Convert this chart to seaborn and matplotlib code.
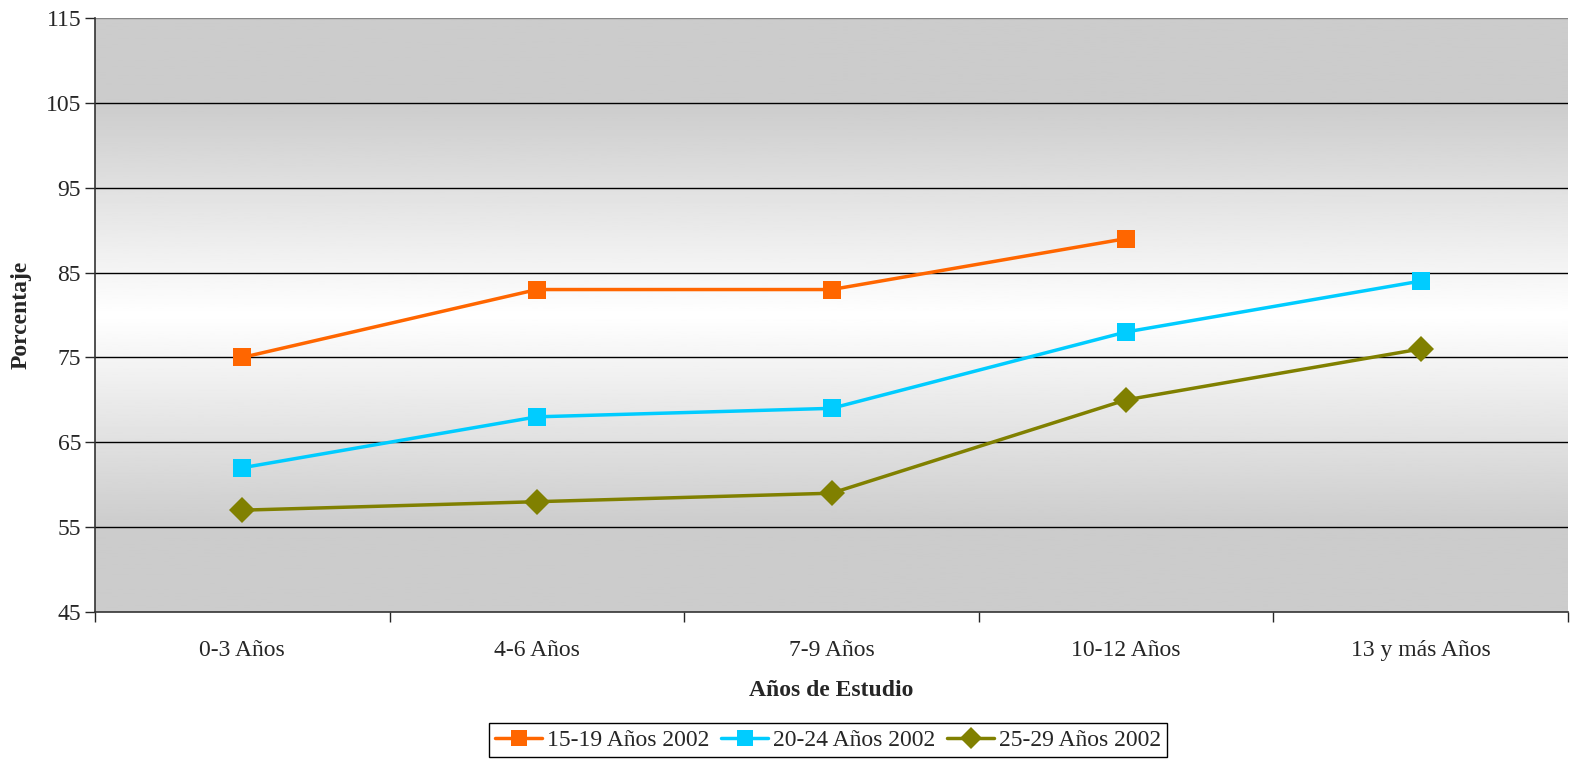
import numpy as np
import pandas as pd
import seaborn as sns
import matplotlib.pyplot as plt
import matplotlib.ticker as ticker

categorias = ["0-3 Años", "4-6 Años", "7-9 Años", "10-12 Años", "13 y más Años"]
s_15_19 = [75, 83, 83, 89, np.nan]
s_20_24 = [62, 68, 69, 78, 84]
s_25_29 = [57, 58, 59, 70, 76]
series = ["15-19 Años 2002", "20-24 Años 2002", "25-29 Años 2002"]
colores = ["#FF6600", "#00CCFF", "#808000"]
marcas = ["s", "s", "D"]
yticks = [45, 55, 65, 75, 85, 95, 105, 115]

sns.set_style("white")
plt.rcParams["font.family"] = ["Liberation Serif", "DejaVu Serif"]

df = pd.DataFrame({"x": list(range(len(categorias))) * 3,
                   "valor": s_15_19 + s_20_24 + s_25_29,
                   "serie": [s for s in series for _ in categorias]})
df = df.dropna()

fig = plt.figure(figsize=(15.87, 7.63), dpi=100)
ax = fig.add_axes([95 / 1587, 1 - 612 / 763, (1568 - 95) / 1587, (612 - 18) / 763])

# fondo degradado: gris arriba y abajo, blanco en el medio
yy = np.linspace(115, 45, 400)
grad = np.interp(yy, [45, 55, 80, 105, 115], [0.8, 0.8, 1.0, 0.8, 0.8])
ax.imshow(grad[:, None], extent=[-0.5, 4.5, 45, 115], aspect="auto",
          cmap="gray", vmin=0, vmax=1, zorder=0)

for y in yticks[1:-1]:
    ax.axhline(y, color="black", lw=1.0, zorder=1)
ax.axhline(115, color="#888888", lw=1.0, zorder=1)

g = sns.lineplot(data=df, x="x", y="valor", hue="serie", style="serie",
                 palette=colores, markers=marcas, dashes=False, markersize=13,
                 linewidth=2.5, markeredgewidth=0, ax=ax, zorder=3)

ax.set_xlim(-0.5, 4.5)
ax.set_ylim(45, 115)
ax.yaxis.set_major_locator(ticker.FixedLocator(yticks))
ax.set_xticks(range(len(categorias)))
ax.set_xticklabels(categorias, fontsize=17)
ax.xaxis.set_minor_locator(ticker.FixedLocator(np.arange(-0.5, 5, 1)))
ax.tick_params(axis="x", which="major", length=0, pad=20)
ax.tick_params(axis="x", which="minor", length=7, width=1, bottom=True)
ax.tick_params(axis="y", length=7, width=1, left=True, labelsize=17, pad=3)

ax.set_xlabel("Años de Estudio", fontsize=17, fontweight="bold", labelpad=14)
ax.set_ylabel("Porcentaje", fontsize=17, fontweight="bold")
ax.yaxis.set_label_coords(-0.043, 0.5)

for s in ["top", "right"]:
    ax.spines[s].set_visible(False)
for s in ["left", "bottom"]:
    ax.spines[s].set_color("#333333")
    ax.spines[s].set_linewidth(1.2)

handles, labels = ax.get_legend_handles_labels()
leg = ax.legend(handles=handles, labels=labels, loc="center",
                bbox_to_anchor=(828 / 1587, 1 - 740 / 763), bbox_transform=fig.transFigure,
                ncol=3, fontsize=17, frameon=True, fancybox=False, edgecolor="black",
                handlelength=2.0, handletextpad=0.2, columnspacing=0.5,
                borderpad=0.25, framealpha=1, markerscale=0.9)
leg.get_frame().set_linewidth(1.0)

fig.savefig("out.png", dpi=100)
